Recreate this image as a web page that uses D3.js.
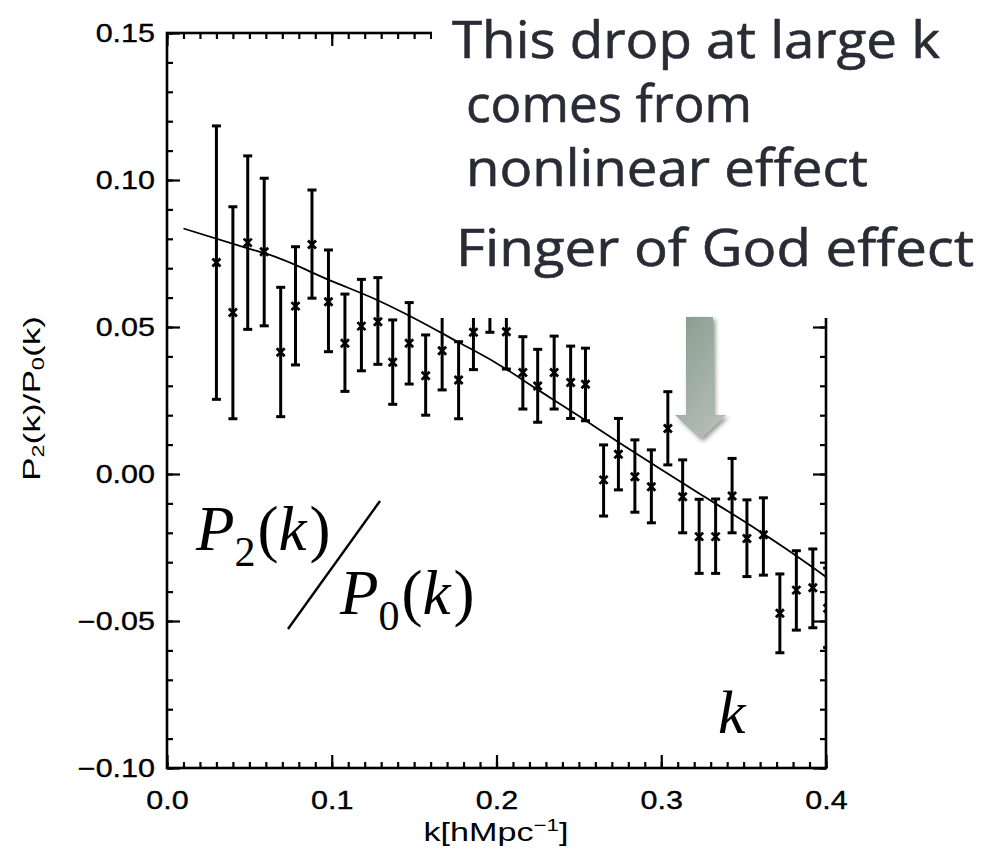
<!DOCTYPE html>
<html>
<head>
<meta charset="utf-8">
<script src="https://cdn.jsdelivr.net/npm/d3@7"></script>
<style>
  body { margin: 0; background: #fff; }
  svg { display: block; }
</style>
</head>
<body>
<svg id="chart" width="981" height="857"></svg>
<script>
// Quadrupole-to-monopole ratio P2(k)/P0(k) measured in k bins
const kValues = [0.030, 0.040, 0.049, 0.059, 0.069, 0.078, 0.088, 0.098, 0.108, 0.118,
                 0.128, 0.137, 0.147, 0.157, 0.167, 0.177, 0.186, 0.196, 0.206, 0.216,
                 0.225, 0.235, 0.245, 0.254, 0.265, 0.274, 0.284, 0.294, 0.304, 0.313,
                 0.323, 0.333, 0.343, 0.352, 0.362, 0.372, 0.382, 0.392, 0.401];
const ratio = [0.0719, 0.0549, 0.0787, 0.0756, 0.0414, 0.0571, 0.0781, 0.0586, 0.0445, 0.0503,
               0.0518, 0.0380, 0.0445, 0.0334, 0.0419, 0.0320, 0.0482, 0.0610, 0.0484, 0.0345,
               0.0299, 0.0345, 0.0311, 0.0305, -0.0020, 0.0067, -0.0009, -0.0043, 0.0155, -0.0077,
               -0.0213, -0.0213, -0.0075, -0.0219, -0.0207, -0.0474, -0.0395, -0.0387, -0.0457];
const upper = [0.1184, 0.0909, 0.1082, 0.1006, 0.0635, 0.0773, 0.0966, 0.0762, 0.0612, 0.0662,
               0.0668, 0.0524, 0.0583, 0.0473, 0.0553, 0.0450, 0.0608, 0.0740, 0.0610, 0.0467,
               0.0424, 0.0469, 0.0435, 0.0428, 0.0099, 0.0189, 0.0116, 0.0082, 0.0280, 0.0048,
               -0.0086, -0.0085, 0.0053, -0.0088, -0.0081, -0.0340, -0.0261, -0.0255, -0.0320];
const lower = [0.0254, 0.0188, 0.0492, 0.0504, 0.0195, 0.0371, 0.0598, 0.0416, 0.0281, 0.0351,
               0.0373, 0.0237, 0.0306, 0.0200, 0.0286, 0.0188, 0.0355, 0.0482, 0.0357, 0.0221,
               0.0176, 0.0221, 0.0189, 0.0181, -0.0143, -0.0054, -0.0130, -0.0166, 0.0031, -0.0200,
               -0.0338, -0.0338, -0.0200, -0.0349, -0.0344, -0.0608, -0.0531, -0.0523, -0.0590];

// Model curve
const fitK = [0.010, 0.050, 0.0625, 0.100, 0.1275, 0.150, 0.175, 0.200, 0.225, 0.250,
              0.275, 0.300, 0.325, 0.350, 0.375, 0.400];
const fitRatio = [0.0835, 0.0766, 0.0745, 0.0656, 0.0592, 0.0530, 0.0454, 0.0377, 0.0287, 0.0197,
                  0.0105, 0.0015, -0.0073, -0.0160, -0.0252, -0.0350];

const xMajorTicks = [0.0, 0.1, 0.2, 0.3, 0.4];
const yMajorTicks = [-0.10, -0.05, 0.00, 0.05, 0.10, 0.15];
const xMinorStep = 0.01;
const yMinorStep = 0.01;

const annotationLines = ["This drop at large k", "comes from", "nonlinear effect", "Finger of God effect"];

const svg = d3.select("#chart");
const plot = { left: 167, right: 826, top: 33, bottom: 768 };

const x = d3.scaleLinear().domain([0, 0.4]).range([plot.left, plot.right]);
const y = d3.scaleLinear().domain([-0.10, 0.15]).range([plot.bottom, plot.top]);

const xMinor = d3.range(0, 0.4 + 1e-9, xMinorStep);
const yMinor = d3.range(-0.10, 0.15 + 1e-9, yMinorStep);

const tickFont = "Liberation Sans, Arial, sans-serif";
const STRETCH = 1.22;

function styleAxis(g) {
  g.select(".domain").remove();
  g.selectAll(".tick line").attr("stroke", "#000").attr("stroke-width", 2.2);
}

// Minor ticks on all four sides
svg.append("g").attr("transform", `translate(0,${plot.bottom})`)
  .call(d3.axisBottom(x).tickValues(xMinor).tickSize(-6).tickFormat(""))
  .call(styleAxis);
svg.append("g").attr("transform", `translate(0,${plot.top})`)
  .call(d3.axisTop(x).tickValues(xMinor).tickSize(-6).tickFormat(""))
  .call(styleAxis);
svg.append("g").attr("transform", `translate(${plot.left},0)`)
  .call(d3.axisLeft(y).tickValues(yMinor).tickSize(-6).tickFormat(""))
  .call(styleAxis);
svg.append("g").attr("transform", `translate(${plot.right},0)`)
  .call(d3.axisRight(y).tickValues(yMinor).tickSize(-6).tickFormat(""))
  .call(styleAxis);

// Major ticks with labels
const xAxis = svg.append("g").attr("transform", `translate(0,${plot.bottom})`)
  .call(d3.axisBottom(x).tickValues(xMajorTicks).tickSize(-13).tickPadding(24).tickFormat(d3.format(".1f")))
  .call(styleAxis);
const yAxis = svg.append("g").attr("transform", `translate(${plot.left},0)`)
  .call(d3.axisLeft(y).tickValues(yMajorTicks).tickSize(-13).tickPadding(12).tickFormat(d3.format(".2f")))
  .call(styleAxis);
svg.append("g").attr("transform", `translate(0,${plot.top})`)
  .call(d3.axisTop(x).tickValues(xMajorTicks).tickSize(-13).tickFormat(""))
  .call(styleAxis);
svg.append("g").attr("transform", `translate(${plot.right},0)`)
  .call(d3.axisRight(y).tickValues(yMajorTicks).tickSize(-13).tickFormat(""))
  .call(styleAxis);

[xAxis, yAxis].forEach(g => {
  g.selectAll(".tick text")
    .attr("font-family", tickFont)
    .attr("font-size", 25)
    .attr("fill", "#000")
    .attr("stroke", "#000").attr("stroke-width", 0.35)
    .attr("lengthAdjust", "spacingAndGlyphs")
    .attr("textLength", function () { return this.getComputedTextLength() * STRETCH; });
});
xAxis.selectAll(".tick text").attr("dy", "0.68em");

// Frame
svg.append("rect")
  .attr("x", plot.left).attr("y", plot.top)
  .attr("width", plot.right - plot.left).attr("height", plot.bottom - plot.top)
  .attr("fill", "none").attr("stroke", "#000").attr("stroke-width", 2.6);

// Axis titles
const yTitle = svg.append("text")
  .attr("transform", `translate(40,${(plot.top + plot.bottom) / 2 - 2}) rotate(-90)`)
  .attr("text-anchor", "middle")
  .attr("font-family", tickFont).attr("font-size", 24).attr("fill", "#000")
  .attr("textLength", 165).attr("lengthAdjust", "spacingAndGlyphs");
yTitle.append("tspan").text("P");
yTitle.append("tspan").attr("font-size", 16).attr("dy", 4).text("2");
yTitle.append("tspan").attr("dy", -4).text("(k)/P");
yTitle.append("tspan").attr("font-size", 16).attr("dy", 4).text("0");
yTitle.append("tspan").attr("dy", -4).text("(k)");

const xTitle = svg.append("text")
  .attr("x", 496).attr("y", 841)
  .attr("text-anchor", "middle")
  .attr("font-family", tickFont).attr("font-size", 26).attr("fill", "#000")
  .attr("textLength", 145).attr("lengthAdjust", "spacingAndGlyphs");
xTitle.append("tspan").text("k[hMpc");
xTitle.append("tspan").attr("font-size", 17).attr("dy", -10).text("\u22121");
xTitle.append("tspan").attr("dy", 10).text("]");

// Data
svg.append("clipPath").attr("id", "plot-clip")
  .append("rect").attr("x", plot.left).attr("y", plot.top)
  .attr("width", plot.right - plot.left).attr("height", plot.bottom - plot.top);

const points = kValues.map((k, i) => ({ k, v: ratio[i], hi: upper[i], lo: lower[i] }));
const dataG = svg.append("g").attr("clip-path", "url(#plot-clip)");

const cap = 4.5;
const bars = dataG.selectAll("g.pt").data(points).join("g").attr("class", "pt")
  .attr("stroke", "#000").attr("stroke-width", 3).attr("fill", "none");
bars.append("line")
  .attr("x1", d => x(d.k)).attr("x2", d => x(d.k))
  .attr("y1", d => y(d.hi)).attr("y2", d => y(d.lo));
bars.append("line")
  .attr("x1", d => x(d.k) - cap).attr("x2", d => x(d.k) + cap)
  .attr("y1", d => y(d.hi)).attr("y2", d => y(d.hi));
bars.append("line")
  .attr("x1", d => x(d.k) - cap).attr("x2", d => x(d.k) + cap)
  .attr("y1", d => y(d.lo)).attr("y2", d => y(d.lo));
const ms = 4;
bars.append("path")
  .attr("stroke-width", 2.8)
  .attr("d", d => {
    const cx = x(d.k), cy = y(d.v);
    return `M${cx - ms},${cy - ms}L${cx + ms},${cy + ms}M${cx - ms},${cy + ms}L${cx + ms},${cy - ms}`;
  });

// Model curve
const line = d3.line().x((d, i) => x(fitK[i])).y(d => y(d)).curve(d3.curveMonotoneX);
dataG.append("path")
  .datum(fitRatio)
  .attr("d", line)
  .attr("fill", "none").attr("stroke", "#000").attr("stroke-width", 1.8);

// Annotation block
svg.append("rect").attr("x", 432).attr("y", 0).attr("width", 549).attr("height", 318).attr("fill", "#fff");

const annotFont = "'Open Sans', 'Noto Sans', sans-serif";
const annot = [
  { x: 452, y: 58, w: 488 },
  { x: 466, y: 122, w: 286 },
  { x: 466, y: 186, w: 402 },
  { x: 456, y: 266, w: 518 }
];
annot.forEach((a, i) => {
  svg.append("text")
    .attr("x", a.x).attr("y", a.y)
    .attr("font-family", annotFont).attr("font-size", 52)
    .attr("fill", "#2b2b35")
    .attr("stroke", "#2b2b35").attr("stroke-width", 0.6)
    .attr("textLength", a.w).attr("lengthAdjust", "spacingAndGlyphs")
    .text(annotationLines[i]);
});

// Arrow pointing at the high-k drop
const defs = svg.append("defs");
const grad = defs.append("linearGradient").attr("id", "arrow-fill")
  .attr("x1", "0%").attr("y1", "0%").attr("x2", "60%").attr("y2", "100%");
grad.append("stop").attr("offset", "0%").attr("stop-color", "#879b8d");
grad.append("stop").attr("offset", "100%").attr("stop-color", "#b3bcb6");
const shadow = defs.append("filter").attr("id", "arrow-shadow")
  .attr("x", "-30%").attr("y", "-30%").attr("width", "160%").attr("height", "160%");
shadow.append("feDropShadow").attr("dx", 2.5).attr("dy", 2.5).attr("stdDeviation", 2)
  .attr("flood-color", "#3a4a40").attr("flood-opacity", 0.55);

svg.append("path")
  .attr("d", "M686,317 L713,317 L713,415 L726,415 L700.5,439 L675,415 L686,415 Z")
  .attr("fill", "url(#arrow-fill)")
  .attr("filter", "url(#arrow-shadow)");

// Formula overlay P2(k)/P0(k)
const serif = "'Liberation Serif', 'Times New Roman', serif";
function formula(x0, base, sub) {
  const t = svg.append("text").attr("x", x0).attr("y", base)
    .attr("font-family", serif).attr("font-size", 63).attr("fill", "#000");
  t.append("tspan").attr("font-style", "italic").text("P");
  t.append("tspan").attr("font-size", 42).attr("dy", 16).text(sub);
  t.append("tspan").attr("dy", -16).attr("dx", 2).text("(");
  t.append("tspan").attr("font-style", "italic").text("k");
  t.append("tspan").attr("dx", 3).text(")");
}
formula(196, 550, "2");
formula(340, 614, "0");
svg.append("line")
  .attr("x1", 288).attr("y1", 629).attr("x2", 380).attr("y2", 501)
  .attr("stroke", "#000").attr("stroke-width", 2.4);

svg.append("text")
  .attr("x", 718).attr("y", 733)
  .attr("font-family", serif).attr("font-style", "italic").attr("font-size", 62)
  .attr("fill", "#000").text("k");
</script>
</body>
</html>
